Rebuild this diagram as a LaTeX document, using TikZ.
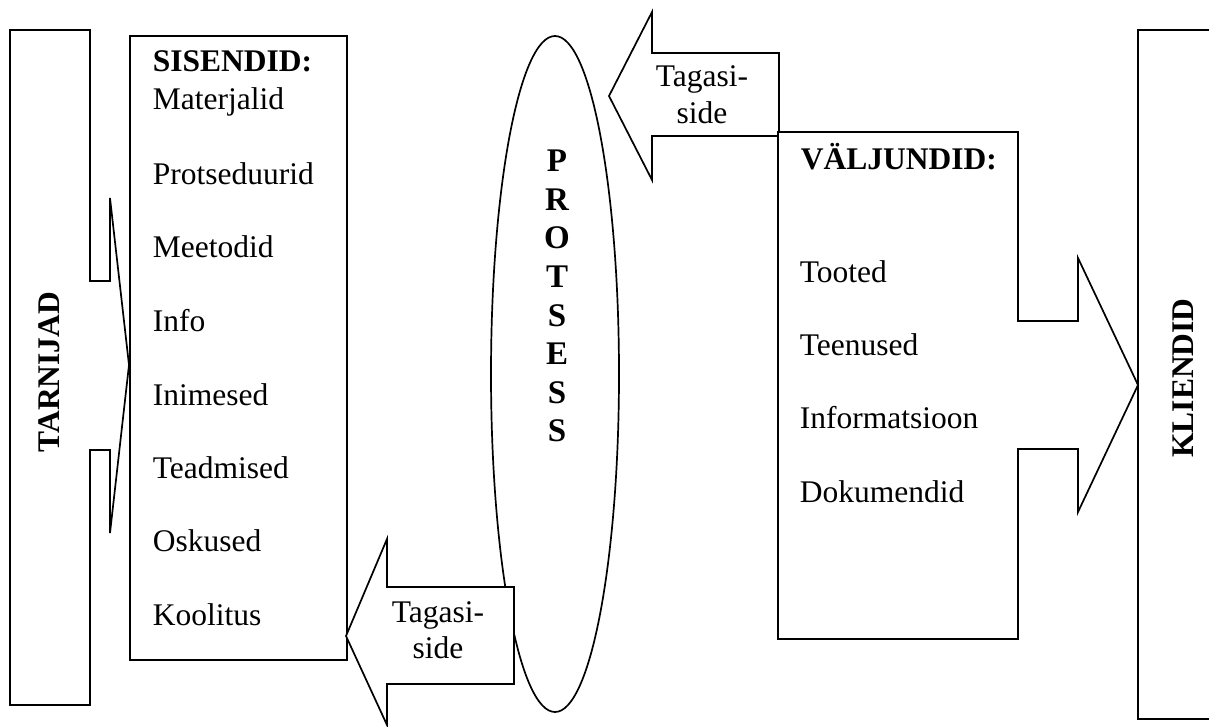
\documentclass[tikz,border=0pt]{standalone}
\usepackage{fontspec}
\setmainfont{Liberation Serif}
\begin{document}
\begin{tikzpicture}[x=1pt,y=-1pt,line width=1.7pt,
  shp/.style={draw=black,fill=white,line join=miter},
  txt/.style={font=\fontsize{31.5}{36}\selectfont,inner sep=0pt,anchor=base west},
  ctxt/.style={font=\fontsize{31.5}{36}\selectfont,inner sep=0pt,anchor=base},
  btxt/.style={font=\fontsize{31.5}{36}\selectfont\bfseries,inner sep=0pt,anchor=base west},
  vtxt/.style={font=\fontsize{31.5}{36}\selectfont\bfseries,inner sep=0pt,rotate=90,anchor=center},
  ltr/.style={font=\fontsize{33}{38}\selectfont\bfseries,inner sep=0pt,anchor=base}]
\path[use as bounding box] (0,0) rectangle (1209,727);
\clip (0,0) rectangle (1209,727);

% TARNIJAD callout
\draw[shp] (10,30) -- (90,30) -- (90,281) -- (110,281) -- (110,198) -- (129,365)
  -- (110,533) -- (110,450) -- (90,450) -- (90,705) -- (10,705) -- cycle;
\node[vtxt] (tarnijad) at (49,372) {TARNIJAD};

% SISENDID box
\draw[shp] (130,36) rectangle (347,660);
\node[btxt] (sis) at (152,72) {SISENDID:};
\node[txt] (s1) at (152,110) {Materjalid};
\node[txt] (s2) at (152,185) {Protseduurid};
\node[txt] (s3) at (152,258) {Meetodid};
\node[txt] (s4) at (152,331) {Info};
\node[txt] (s5) at (152,405) {Inimesed};
\node[txt] (s6) at (152,478) {Teadmised};
\node[txt] (s7) at (152,551) {Oskused};
\node[txt] (s8) at (152,625) {Koolitus};

% PROTSESS ellipse
\draw[shp] (555,374) ellipse [x radius=64, y radius=338];
\foreach \l [count=\i from 0] in {P,R,O,T,S,E,S,S}
  \node[ltr] (p\i) at (557,172+38.5*\i) {\l};

% bottom feedback arrow
\draw[shp] (346,636) -- (387,539) -- (387,587) -- (514,587) -- (514,684)
  -- (387,684) -- (387,725) -- cycle;
\node[ctxt] (tb1) at (438,622) {Tagasi-};
\node[ctxt] (tb2) at (438,658) {side};

% top feedback arrow
\draw[shp] (609,96) -- (652,12) -- (652,53) -- (779,53) -- (779,136)
  -- (652,136) -- (652,180) -- cycle;
\node[ctxt] (tt1) at (702,87) {Tagasi-};
\node[ctxt] (tt2) at (702,124) {side};

% VALJUNDID callout
\draw[shp] (778,132) -- (1018,132) -- (1018,321) -- (1078,321) -- (1078,258)
  -- (1138,385) -- (1078,512) -- (1078,449) -- (1018,449) -- (1018,639)
  -- (778,639) -- cycle;
\node[btxt] (val) at (800,170) {VÄLJUNDID:};
\node[txt] (v1) at (799,282) {Tooted};
\node[txt] (v2) at (799,355) {Teenused};
\node[txt] (v3) at (799,428) {Informatsioon};
\node[txt] (v4) at (799,502) {Dokumendid};

% KLIENDID box
\draw[shp] (1138,30) -- (1220,30) -- (1220,719) -- (1138,719) -- cycle;
\node[vtxt] (kliendid) at (1183,378) {KLIENDID};
\end{tikzpicture}
\end{document}
